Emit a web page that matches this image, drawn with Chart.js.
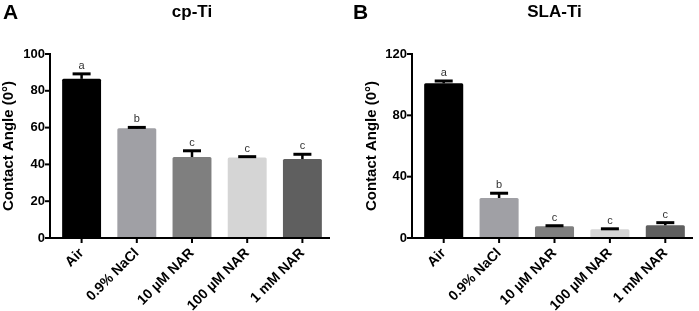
<!DOCTYPE html>
<html>
<head>
<meta charset="utf-8">
<script src="https://cdn.jsdelivr.net/npm/chart.js@4/dist/chart.umd.min.js"></script>
<style>
  html, body { margin: 0; padding: 0; background: #fff; }
  #wrap { position: relative; width: 699px; height: 311px; }
  .panel { position: absolute; top: 0; }
</style>
</head>
<body>
<div id="wrap">
  <div class="panel" style="left:0"><canvas id="cpChart" width="350" height="311"></canvas></div>
  <div class="panel" style="left:350px"><canvas id="slaChart" width="349" height="311"></canvas></div>
</div>
<script>
const categories = ['Air', '0.9% NaCl', '10 \u00b5M NAR', '100 \u00b5M NAR', '1 mM NAR'];
const letters = ['a', 'b', 'c', 'c', 'c'];

const cpTiMeans = [86.5, 59.6, 44, 43.8, 42.9];
const cpTiErrors = [2.7, 0.5, 3.4, 0.4, 2.6];

const slaTiMeans = [100.9, 26.1, 7.6, 5.7, 8.3];
const slaTiErrors = [1.5, 3.1, 0.4, 0.3, 1.7];

const cpTicks = [0, 20, 40, 60, 80, 100];
const slaTicks = [0, 40, 80, 120];

const barColors = ['#000000', '#a0a0a5', '#7f7f7f', '#d5d5d5', '#5f5f5f'];
const FONT = 'Arial, "Liberation Sans", Helvetica, sans-serif';

// axes, error bars, letters and panel titles
const decorPlugin = {
  id: 'decor',
  afterDatasetsDraw(chart, args, opts) {
    const ctx = chart.ctx;
    const area = chart.chartArea;
    const xs = chart.scales.x, ys = chart.scales.y;
    const axisX = area.left - opts.axisGap;
    const meta = chart.getDatasetMeta(0);
    const means = chart.data.datasets[0].data;
    ctx.save();

    // error bars (upper only) and significance letters
    opts.errors.forEach((err, i) => {
      const bar = meta.data[i];
      const yTop = ys.getPixelForValue(means[i] + err);
      const yBar = ys.getPixelForValue(means[i]);
      ctx.strokeStyle = '#000';
      ctx.lineWidth = 2.5;
      ctx.beginPath();
      ctx.moveTo(bar.x, yBar);
      ctx.lineTo(bar.x, yTop);
      ctx.stroke();
      ctx.lineWidth = 3;
      ctx.beginPath();
      ctx.moveTo(bar.x - 9, yTop);
      ctx.lineTo(bar.x + 9, yTop);
      ctx.stroke();
      ctx.fillStyle = '#333';
      ctx.font = '11px ' + FONT;
      ctx.textAlign = 'center';
      ctx.textBaseline = 'alphabetic';
      ctx.fillText(letters[i], bar.x, yTop - 5);
    });

    // axis lines
    ctx.strokeStyle = '#000';
    ctx.lineWidth = 2;
    ctx.beginPath();
    ctx.moveTo(axisX, area.top - 1);
    ctx.lineTo(axisX, area.bottom);
    ctx.lineTo(area.right, area.bottom);
    ctx.stroke();

    // y tick marks
    ys.ticks.forEach((t, i) => {
      const y = ys.getPixelForTick(i);
      ctx.beginPath();
      ctx.moveTo(axisX - 5, y);
      ctx.lineTo(axisX, y);
      ctx.stroke();
    });
    // x tick marks
    xs.ticks.forEach((t, i) => {
      const x = xs.getPixelForTick(i);
      ctx.beginPath();
      ctx.moveTo(x, area.bottom);
      ctx.lineTo(x, area.bottom + 5);
      ctx.stroke();
    });

    // panel letter and title
    ctx.fillStyle = '#000';
    ctx.textAlign = 'left';
    ctx.textBaseline = 'alphabetic';
    ctx.font = 'bold 21px ' + FONT;
    ctx.fillText(opts.panel, 3, 18.5);
    ctx.textAlign = 'center';
    ctx.font = 'bold 17px ' + FONT;
    ctx.fillText(opts.title, (area.left + area.right) / 2, 17);
    ctx.restore();
  }
};

function makeChart(id, means, errors, ticks, cfg) {
  return new Chart(document.getElementById(id), {
    type: 'bar',
    data: {
      labels: categories,
      datasets: [{
        data: means,
        backgroundColor: barColors,
        borderColor: barColors,
        borderWidth: 0,
        borderRadius: 1.5,
        borderSkipped: 'bottom',
        barPercentage: 0.705,
        categoryPercentage: 1
      }]
    },
    options: {
      responsive: false,
      animation: false,
      layout: { padding: { top: 54, right: cfg.padRight, left: 0, bottom: 0 } },
      plugins: {
        legend: { display: false },
        tooltip: { enabled: false },
        decor: { errors: errors, panel: cfg.panel, title: cfg.title, axisGap: 4 }
      },
      scales: {
        x: {
          grid: { display: false, drawTicks: false },
          border: { display: false },
          ticks: {
            autoSkip: false,
            minRotation: 45,
            maxRotation: 45,
            padding: 7,
            color: '#000',
            font: { family: FONT, size: 14, weight: 'bold' }
          },
          afterFit: (s) => { s.height = 73; }
        },
        y: {
          min: 0,
          max: ticks[ticks.length - 1],
          afterBuildTicks: (s) => { s.ticks = ticks.map(v => ({ value: v })); },
          grid: { display: false, drawTicks: false },
          border: { display: false },
          ticks: {
            padding: 9,
            color: '#000',
            font: { family: FONT, size: 13, weight: 'bold' }
          },
          title: {
            display: true,
            text: 'Contact Angle (0\u00b0)',
            color: '#000',
            padding: { top: cfg.titlePad, bottom: 0 },
            font: { family: FONT, size: 15, weight: 'bold' }
          },
          afterFit: (s) => { s.width = cfg.axisWidth; }
        }
      }
    },
    plugins: [decorPlugin]
  });
}

makeChart('cpChart', cpTiMeans, cpTiErrors, cpTicks,
  { panel: 'A', title: 'cp-Ti', padRight: 20, axisWidth: 54, titlePad: 0 });
makeChart('slaChart', slaTiMeans, slaTiErrors, slaTicks,
  { panel: 'B', title: 'SLA-Ti', padRight: 6, axisWidth: 66, titlePad: 13 });
</script>
</body>
</html>
